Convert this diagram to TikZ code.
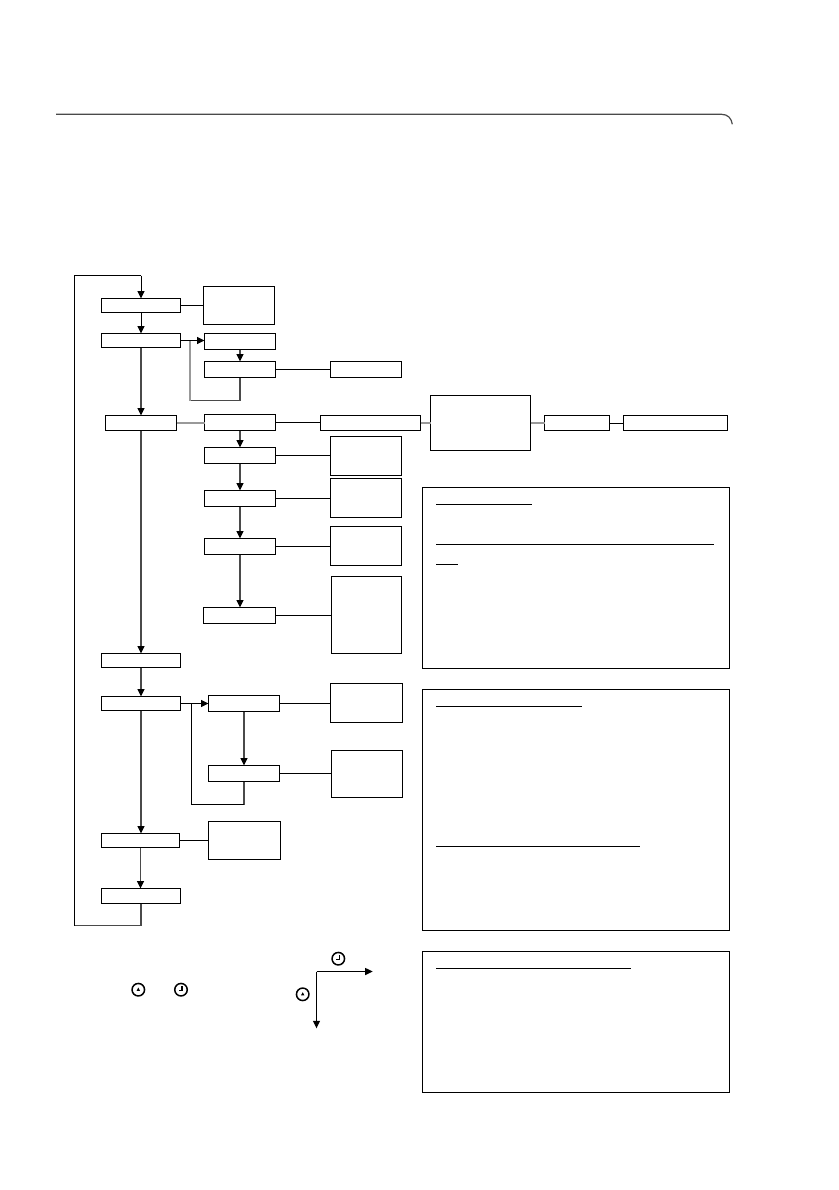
\documentclass[tikz,border=0pt]{standalone}
\usetikzlibrary{arrows.meta}
\definecolor{ruleg}{HTML}{4A4A4A}
\definecolor{lineg}{HTML}{999999}
\definecolor{linem}{HTML}{4A4A4A}
\tikzset{
  framebox/.style={draw=black,line width=1pt,inner sep=0pt,outer sep=0pt},
  conn/.style={draw=black,line width=1pt},
  conngray/.style={draw=lineg,line width=1.2pt},
  connmid/.style={draw=linem,line width=1.1pt},
  tip/.style={-{Triangle[length=7.5pt,width=7pt,color=black,fill=black]}},
  ruleline/.style={draw=black,line width=1pt},
  clockface/.style={circle,draw=black,line width=1.5pt,minimum size=12.5pt,inner sep=0pt,outer sep=0pt},
  hand/.style={draw=black,line width=1.1pt}
}
% name, left, top, right, bottom
\newcommand{\bx}[5]{%
  \pgfmathsetmacro{\bw}{#4-#2}\pgfmathsetmacro{\bh}{#5-#3}%
  \node[framebox,minimum width=\bw pt,minimum height=\bh pt] (#1) at ({(#2+#4)/2},{(#3+#5)/2}) {};}
\newcommand{\clockA}[3]{\node[clockface] (#1) at (#2,#3) {};
  \fill (#1.center) ++(-1.7,1.1) -- ++(3.4,0) -- ++(-1.7,-3.2) -- cycle;}
\newcommand{\clockB}[3]{\node[clockface] (#1) at (#2,#3) {};
  \draw[hand] (#1.center) ++(1,-3.4) -- ++(0,4.4) -- ++(-3.4,0);}
% down connector and right connector between named nodes
\newcommand{\dn}[3][connmid]{\draw[#1,tip] (#2.south) -- (#2.south |- #3.north);}
\newcommand{\rt}[3][conn]{\draw[#1] (#2.east) -- (#2.east -| #3.west);}
\begin{document}
\begin{tikzpicture}[x=1pt,y=-1pt]
\useasboundingbox (0,0) rectangle (838,1190);
% page header rule
\coordinate (hl) at (56,114.3);
\coordinate (hm) at (721.5,114.3);
\coordinate (hr) at (732.3,124.3);
\draw[draw=ruleg,line width=1.2pt] (hl) -- (hm) .. controls (728,114.3) and (731.5,118.5) .. (hr);
% main column
\bx{b1}{101.5}{298.5}{180.5}{312.5}
\bx{b2}{101.5}{333.5}{180.5}{347.5}
\bx{b3}{105.5}{415.5}{176.5}{430.5}
\bx{b4}{101.5}{653.5}{180.5}{667.5}
\bx{b5}{101.5}{696.5}{180.5}{710.5}
\bx{b6}{101.5}{833.5}{179.5}{847.5}
\bx{b7}{101.5}{888.5}{180.5}{903.5}
% second column
\bx{s1}{203.5}{286.5}{274.5}{324.5}
\bx{c1}{204.5}{333.5}{275.5}{349.5}
\bx{c2}{204.5}{361.5}{275.5}{377.5}
\bx{c3}{204.5}{414.5}{275.5}{430.5}
\bx{c4}{204.5}{447.5}{275.5}{463.5}
\bx{c5}{204.5}{490.5}{275.5}{506.5}
\bx{c6}{204.5}{538.5}{275.5}{554.5}
\bx{c7}{203.5}{607.5}{275.5}{623.5}
\bx{c8}{208.5}{695.5}{279.5}{711.5}
\bx{c9}{208.5}{765.5}{279.5}{781.5}
\bx{s2}{208.5}{821.5}{280.5}{859.5}
% third column
\bx{d1}{330.5}{361.5}{401.5}{377.5}
\bx{d3}{330.5}{436.5}{401.5}{475.5}
\bx{d4}{330.5}{478.5}{401.5}{517.5}
\bx{d5}{330.5}{526.5}{401.5}{565.5}
\bx{d6}{331.5}{576.5}{401.5}{653.5}
\bx{d8}{330.5}{683.5}{402.5}{722.5}
\bx{d9}{331.5}{750.5}{402.5}{797.5}
% top row to the right
\bx{e1}{320.5}{415.5}{420.5}{430.5}
\bx{big}{430.5}{395.5}{530.5}{450.5}
\bx{f1}{544.5}{415.5}{609.5}{430.5}
\bx{f2}{623.5}{415.5}{727.5}{430.5}
% text panels
\bx{p1}{422.5}{487.5}{729.5}{668.5}
\bx{p2}{422.5}{689.5}{729.5}{930.5}
\bx{p3}{422.5}{951.5}{729.5}{1092.5}
% panel rules
\draw[ruleline] (436,504.5) -- (532,504.5);
\draw[ruleline] (436,544.5) -- (714,544.5);
\draw[ruleline] (436,564.5) -- (458,564.5);
\draw[ruleline] (436,706.5) -- (582,706.5);
\draw[ruleline] (436,846.5) -- (640,846.5);
\draw[ruleline] (436,968.5) -- (631,968.5);
% main column arrows
\dn[conn]{b1}{b2}
\dn{b2}{b3}
\dn{b3}{b4}
\dn{b4}{b5}
\dn{b5}{b6}
\dn{b6}{b7}
% outer loop
\coordinate (oa) at (141,925.5);
\coordinate (ob) at (74.5,925.5);
\coordinate (oc) at (74.5,275.5);
\draw[connmid] (b7.south) -- (b7.south |- oa) -- (ob);
\draw[conn] (ob) -- (oc) -- (oc -| b1.north);
\draw[conn,tip] (oc -| b1.north) -- (b1.north);
% side links
\rt{b1}{s1}
\rt[conngray]{b3}{c3}
\rt{c3}{e1}
\rt[conngray]{e1}{big}
\rt[conngray]{big}{f1}
\rt{f1}{f2}
\rt{c2}{d1}
\rt{c4}{d3}
\rt{c5}{d4}
\rt{c6}{d5}
\rt{c7}{d6}
\rt{c8}{d8}
\rt{c9}{d9}
\draw[conn] (b6.east) -- (b6.east -| s2.west);
% second column arrows
\dn{c1}{c2}
\dn{c3}{c4}
\dn{c4}{c5}
\dn{c5}{c6}
\dn{c6}{c7}
\dn{c8}{c9}
% branch arrow and loop, upper
\draw[conn,tip] (b2.east) -- (b2.east -| c1.west);
\coordinate (ua) at (240,400.5);
\coordinate (ub) at (190,400.5);
\coordinate (uc) at (190,340.5);
\draw[connmid] (c2.south) -- (c2.south |- ua) -- (ub);
\draw[conngray] (ub) -- (uc);
% branch arrow and loop, lower
\draw[conn,tip] (b5.east) -- (b5.east -| c8.west);
\coordinate (la) at (244,804.5);
\coordinate (lb) at (191.5,804.5);
\coordinate (lc) at (191.5,703.5);
\draw[connmid] (c9.south) -- (c9.south |- la);
\draw[conn] (la) -- (lb) -- (lc);
% clock legend
\clockA{k1}{138.3}{989.7}
\clockB{k2}{181}{989.7}
\clockB{k3}{338.3}{958.7}
\clockA{k4}{302.7}{994.3}
\coordinate (ax) at (316.5,971.5);
\coordinate (axr) at (372.7,971.5);
\coordinate (axd) at (316.5,1028.3);
\draw[conn,tip] (ax) -- (axr);
\draw[conn,tip] (ax) -- (axd);
\end{tikzpicture}
\end{document}
